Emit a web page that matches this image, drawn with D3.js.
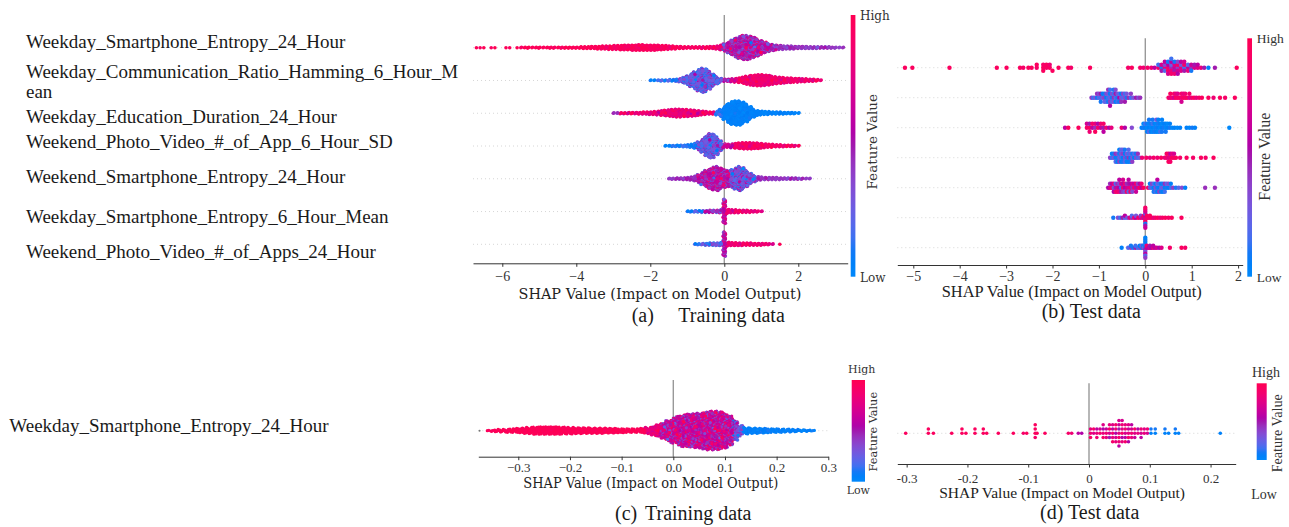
<!DOCTYPE html>
<html>
<head>
<meta charset="utf-8">
<script src="https://cdn.jsdelivr.net/npm/d3@7"></script>
<style>
  html, body { margin: 0; padding: 0; background: #fff; }
  svg { display: block; }
</style>
</head>
<body>
<svg id="fig" width="1289" height="527"></svg>
<script>
// ---------------------------------------------------------------
// Data
// ---------------------------------------------------------------
const featureLabelLines = [
  ["Weekday_Smartphone_Entropy_24_Hour"],
  ["Weekday_Communication_Ratio_Hamming_6_Hour_M", "ean"],
  ["Weekday_Education_Duration_24_Hour"],
  ["Weekend_Photo_Video_#_of_App_6_Hour_SD"],
  ["Weekend_Smartphone_Entropy_24_Hour"],
  ["Weekday_Smartphone_Entropy_6_Hour_Mean"],
  ["Weekend_Photo_Video_#_of_Apps_24_Hour"]
];
const singleFeatureLabel = "Weekday_Smartphone_Entropy_24_Hour";

const ticksTrain = [-6, -4, -2, 0, 2];
const ticksTest = [-5, -4, -3, -2, -1, 0, 1, 2];
const ticksSingleTrain = [-0.3, -0.2, -0.1, 0, 0.1, 0.2, 0.3];
const ticksSingleTest = [-0.3, -0.2, -0.1, 0, 0.1, 0.2];

// Training set, seven features: SHAP histograms (bin start, 0.1 wide bins, samples per bin)
const trainBinStep = 0.1;
const trainBinStart = [-6.7, -2.0, -3.0, -1.6, -1.5, -1.0, -0.8];
const trainCounts = [
  [1,1,1,0,1,1,0,0,1,1,0,1, 2,2,3,2,2,3,2,2,3,3,2,3,3,3,3,3, 4,5,5,6,6,7,8,
   8,9,10,10,11,12,12,13,13,14,14,13,13, 13,12,11,10,9,8,7,6,5,4, 4,4,4,5,5,6,6,8,12,
   18,26,36,46,54,60,60,56,50,42,34,26,20,16,12,10, 9,8,8,7,6,6,6,5,5,5,4,4,4,3,3,2,2],
  [2,2,2,3,3,4,4,6,8, 14,22,32,42,52,60,56,44,30,18,10, 6,6,8,
   10,12,16,20,24,26,28,28,26,24,20,18,16, 14,12,12,10,10,8,8,6,6,4,2],
  [2,2,3,3,4,4,4,5,6,6,7,8, 10,12,14,16,18,20,20,18,18,16,14,12,10,8,6, 6,10,18,
   32,46,56,60,60,54,44,32,20,12, 10,8,8,6,6,6,5,4,4,3,2],
  [2,2,3,4,4,5,6,8,12, 20,32,48,60,58,44,24,10, 8,10,12,14,16,16,16,14,14,12, 10,8,8,6,6,5,4,4,3,2],
  [2,3,4,4,5,6,8,12, 20,30,40,48,56,60,52,44,40,44,52,60,54,40,26,16,10,
   8,6,6,6,6,5,4,4,4,4,3,3,2,2],
  [2,3,4,4,5,5,6,6,6,8, 60, 10,8,8,7,6,6,5,4,3,2],
  [2,3,4,5,6,6,7,8, 60, 10,8,8,7,7,6,6,5,5,5,4,3,2,0,1]
];
// Feature value (0 = low, 1 = high) along each row: [from SHAP, mean, spread]
const trainFeatureValue = [
  [[-7, 0.97, 0.05], [-3.3, 0.93, 0.12], [-0.35, 0.8, 0.2], [-0.05, 0.52, 0.45], [1.45, 0.42, 0.12]],
  [[-2.1, 0.1, 0.15], [-1.2, 0.25, 0.3], [0.0, 0.6, 0.3], [0.3, 0.85, 0.2]],
  [[-3.1, 0.5, 0.1], [-2.8, 0.82, 0.25], [-0.25, 0.1, 0.1], [0.0, 0.04, 0.06]],
  [[-1.7, 0.08, 0.1], [-0.75, 0.25, 0.3], [-0.05, 0.65, 0.3], [0.3, 0.88, 0.15]],
  [[-1.6, 0.45, 0.1], [-0.75, 0.55, 0.4], [0.15, 0.3, 0.35], [0.9, 0.42, 0.1]],
  [[-1.1, 0.15, 0.2], [-0.55, 0.4, 0.35], [-0.05, 0.65, 0.35], [0.05, 0.82, 0.18]],
  [[-0.9, 0.2, 0.25], [-0.05, 0.55, 0.35], [0.05, 0.85, 0.15]]
];

// Test set, seven features: [SHAP value, feature values of the samples at that value]
const testRows = [
  [[-5.18,[.95]],[-5.02,[.95]],[-4.22,[.95]],[-3.20,[.95]],[-2.99,[.95]],[-2.70,[.95]],[-2.63,[.9]],
   [-2.52,[.95]],[-2.45,[.95]],[-2.34,[.9,.95]],[-2.20,[.95,.9,.95]],[-2.13,[.9,.95]],[-2.06,[.95,.85]],
   [-2.00,[.95]],[-1.87,[.95]],[-1.66,[.95]],[-1.60,[.9]],[-1.19,[.95]],[-0.37,[.9]],[-0.29,[.95]],
   [-0.11,[.9]],[-0.04,[.85]],[0.05,[.9]],[0.13,[.85]],[0.20,[.6]],[0.28,[.9,.15]],[0.35,[.1,.7,.5]],
   [0.42,[.8,.35,.2,.6]],[0.49,[.85,.55,.9,.1,.7]],[0.56,[.45,.25,.8,.6,.9,.15]],[0.63,[.65,.75,.5,.1,.85]],
   [0.70,[.4,.9,.7,.35,.55]],[0.77,[.8,.3,.75,.6]],[0.84,[.15,.9,.5,.7]],[0.92,[.6,.2,.8]],
   [0.99,[.45,.65,.1]],[1.06,[.7,.5]],[1.13,[.75,.6]],[1.20,[.8]],[1.27,[.5]],[1.36,[.05]],[1.50,[.5]],[1.97,[.95]]],
  [[-1.16,[.4]],[-1.12,[.15]],[-1.08,[.3]],[-1.04,[.1,.45]],[-1.00,[.2,.35]],[-0.96,[.15,.5,.1]],
   [-0.92,[.3,.05]],[-0.88,[.4,.1,.25]],[-0.84,[.05,.35,.2]],[-0.80,[.15,.3,.1,.45]],[-0.76,[.25,.05,.4,.15,.55]],
   [-0.72,[.1,.35,.2]],[-0.68,[.45,.15,.3,.1]],[-0.64,[.2,.5,.05,.35]],[-0.60,[.1,.3,.15]],[-0.56,[.55,.2,.1]],
   [-0.52,[.3,.05,.45]],[-0.48,[.2,.4]],[-0.44,[.35,.15,.5]],[-0.40,[.1,.3]],[-0.36,[.45]],[-0.31,[.15,.4]],
   [-0.26,[.3]],[-0.20,[.5]],[-0.15,[.35]],[-0.11,[.45]],
   [0.50,[.9]],[0.54,[.8,.95]],[0.58,[.85]],[0.62,[.7,.9]],[0.66,[.95,.8]],[0.70,[.9,.75]],[0.74,[.95]],
   [0.78,[.85,.9,.7]],[0.82,[.95,.8]],[0.86,[.9,.85]],[0.90,[.95]],[0.95,[.75,.9]],[1.00,[.85]],[1.05,[.95]],
   [1.10,[.8]],[1.16,[.9]],[1.22,[.95]],[1.36,[.95]],[1.47,[.85]],[1.61,[.95]],[1.72,[.9]],[1.93,[.95]]],
  [[-1.73,[.6]],[-1.66,[.95]],[-1.44,[.95]],[-1.26,[.9,.7]],[-1.20,[.95,.5,.85]],[-1.14,[.6,.9]],
   [-1.08,[.45,.8,.95]],[-1.02,[.9,.55]],[-0.96,[.65,.85]],[-0.90,[.5,.9,.6]],[-0.84,[.85]],[-0.78,[.55]],
   [-0.73,[.8]],[-0.51,[.85]],[-0.44,[.55]],[-0.29,[.35]],
   [-0.08,[.05]],[-0.04,[.1,0]],[0.00,[.05,.15]],[0.04,[0,.1,.05]],[0.08,[.05,0,.2,.1]],[0.12,[0,.1,.05]],
   [0.16,[.05,.15,0,.1]],[0.20,[0,.05,.1]],[0.24,[.1,0,.05,.3]],[0.28,[.05,.1,0,.05]],[0.32,[0,.05,.15]],
   [0.36,[.05,0,.1,.05]],[0.40,[.1,.05]],[0.44,[0,.05,.1]],[0.48,[.05,0]],[0.53,[.1,.05]],[0.58,[0]],
   [0.63,[.05]],[0.69,[0]],[0.75,[.05]],[0.89,[.05]],[0.95,[0]],[1.01,[.1]],[1.07,[.05]],[1.81,[0]]],
  [[-0.76,[.4]],[-0.72,[.15,.05]],[-0.68,[.3,.1]],[-0.64,[.05,.45,.2]],[-0.60,[.1,.35,.05]],
   [-0.56,[.25,.1,.4,.05]],[-0.52,[.15,.3,.05,.2]],[-0.48,[.05,.4,.1,.25]],[-0.44,[.35,.05,.2,.1]],
   [-0.40,[.1,.3,.05]],[-0.36,[.45,.15,.05,.2]],[-0.32,[.05,.25,.1]],[-0.28,[.3,.1,.4]],[-0.24,[.05,.2]],
   [-0.20,[.35,.1]],[-0.16,[.15,.45]],[-0.12,[.25]],
   [-0.07,[.85]],[0.02,[.9]],[0.10,[.8]],[0.18,[.9]],[0.26,[.85]],[0.34,[.95]],[0.42,[.8]],[0.46,[.9,.95]],
   [0.50,[.75,.9,.95]],[0.54,[.85,.6,.9]],[0.58,[.95,.8]],[0.62,[.9,.7]],[0.66,[.95]],[0.75,[.9]],
   [0.89,[.95]],[1.03,[.9]],[1.20,[.95]],[1.30,[.9]],[1.47,[.95]]],
  [[-0.80,[.55]],[-0.76,[.75,.45]],[-0.72,[.9,.6]],[-0.68,[.3,.8,.55]],[-0.64,[.5,.2,.85]],[-0.60,[.7,.45,.9]],
   [-0.56,[.55,.35,.8,.6]],[-0.52,[.15,.75,.5]],[-0.48,[.9,.6,.4,.7]],[-0.44,[.55,.85,.3]],[-0.40,[.65,.45,.9]],
   [-0.36,[.75,.5,.2,.6]],[-0.32,[.8,.55,.9]],[-0.28,[.45,.7,.35]],[-0.24,[.85,.6]],[-0.20,[.5,.9,.65]],
   [-0.16,[.7,.4]],[-0.12,[.95,.55]],[-0.08,[.6,.85]],[-0.04,[.95]],
   [0.06,[.9]],[0.10,[.3,.05]],[0.14,[.15,.4]],[0.18,[.05,.2,.1]],[0.22,[.35,.05,.15]],[0.26,[.1,.25,.05,.6]],
   [0.30,[.05,.15,.4]],[0.34,[.2,.05,.1]],[0.38,[.3,.1,.05]],[0.42,[.05,.45,.15]],[0.46,[.1,.2]],[0.50,[.05,.35]],
   [0.55,[.15,.05]],[0.60,[.4]],[0.66,[.1]],[0.72,[.2]],[0.79,[.35]],[0.86,[.05]],[1.29,[.45]],[1.50,[.45]]],
  [[-0.69,[.1]],[-0.59,[.35]],[-0.54,[.15]],[-0.49,[.5]],[-0.44,[.2,.6]],[-0.39,[.3]],[-0.34,[.75]],
   [-0.29,[.45,.2]],[-0.24,[.85]],[-0.20,[.55,.3]],[-0.15,[.9]],[-0.10,[.7,.4]],[-0.06,[.85]],[-0.03,[.5,.9]],
   [0.00,[.9,.6,.85,.2,.95,.7,.1,.8,.5,.9,.65]],[0.03,[.8,.95]],[0.06,[.9]],[0.10,[.85,.95]],[0.14,[.95]],
   [0.18,[.8]],[0.22,[.9]],[0.27,[.95]],[0.32,[.85]],[0.37,[.9]],[0.43,[.95]],[0.50,[.9]],[0.57,[.95]],[0.78,[.95]]],
  [[-0.51,[.05]],[-0.37,[.2]],[-0.31,[.4,.1]],[-0.26,[.1]],[-0.21,[.5,.15]],[-0.16,[.15]],[-0.12,[.35,.05]],
   [-0.08,[.05,.3]],[-0.05,[.45,.1]],[-0.03,[.25]],
   [0.00,[.1,.05,.5,.15,.3,.05,.6,.1,.2,.05,.4]],[0.03,[.6,.85]],[0.07,[.6]],[0.10,[.75,.5]],[0.13,[.55]],
   [0.17,[.8,.6]],[0.21,[.6]],[0.25,[.7]],[0.30,[.55]],[0.35,[.75]],[0.53,[.9]],[0.78,[.95]],[0.86,[.9]]]
];

// Training set, single feature: histogram with 0.01 wide bins
const singleTrainBinStep = 0.01;
const singleTrainBinStart = -0.36;
const singleTrainCounts = [
  2,5,8,9,11,12,14,17,20,23, 24,24,24,24,23,22,21,20,19,18, 18,17,17,16,15,14,13,12,12,12,
  15,20,27,36,48,63, 78,90,99,102,105,108,114,120,120,117, 108,90,60,33,21,18,17,15,14,12,
  12,11,10,9,8,6,5,3
];
const singleTrainFeatureValue = [[-0.4, 0.97, 0.04], [-0.05, 0.8, 0.2], [-0.02, 0.62, 0.4],
                                 [0.12, 0.3, 0.3], [0.135, 0.05, 0.06]];
const singleTrainMissing = [-0.375];

// Test set, single feature
const singleTest = [
  [-0.3016,[.95]],[-0.2643,[.95,.95]],[-0.256,[.95]],[-0.2259,[.95]],[-0.2090,[.95,.95]],[-0.2025,[.95]],
  [-0.1876,[.95,.95]],[-0.1739,[.95,.95]],[-0.1683,[.95]],[-0.1492,[.95]],[-0.1245,[.95]],[-0.1080,[.9]],
  [-0.1025,[.95]],[-0.0885,[.95,.95,.9,.95]],[-0.0855,[.95]],[-0.0724,[.95]],[-0.0340,[.9]],[-0.0285,[.85]],
  [-0.0176,[.6]],[-0.0120,[.55]],
  [0.0025,[.85,.8,.9]],[0.0077,[.75,.9]],[0.0129,[.8,.6,.85]],[0.0181,[.9,.7]],[0.0233,[.8,.55,.9,.75]],
  [0.0285,[.85,.65,.8]],[0.0337,[.7,.9,.5,.8]],[0.0389,[.85,.6,.8,.75,.9]],[0.0441,[.55,.85,.7,.9,.8]],
  [0.0493,[.8,.5,.9,.65,.85,.7,.6]],[0.0545,[.9,.75,.55,.85,.8,.7]],[0.0597,[.7,.85,.6,.8,.9]],
  [0.0649,[.8,.65,.9,.75,.55]],[0.0701,[.85,.7,.8,.6]],[0.0753,[.75,.9,.65]],[0.0805,[.8,.55]],
  [0.0857,[.7,.85,.6]],[0.0909,[.8,.75]],[0.0961,[.7,.85]],
  [0.1020,[.05,.1]],[0.1090,[.05,.1]],[0.1250,[.05,.1]],[0.1310,[.05]],[0.1420,[.05,.1]],[0.1475,[.05]],[0.2160,[.05]]
];

// ---------------------------------------------------------------
// Layout
// ---------------------------------------------------------------
const fontSlab = "'DejaVu Serif', serif";
const fontBook = "'Liberation Serif', 'Times New Roman', serif";

const panels = {
  a: { x0: 724.3, ppu: 37, axisLeft: 473, axisRight: 847.7, axisY: 263.3, top: 15,
       rowY0: 47.7, rowStep: 32.77, rowMax: 12.6, r: 1.8, binSpread: 0.35,
       ticks: ticksTrain, fmt: d3.format("d"), tickFont: fontBook, tickSize: 14, tickBase: 281,
       title: { x: 660, y: 299, w: 283, font: fontSlab, size: 15 },
       bar: { x: 850.7, w: 4.7, y0: 15, y1: 276.7 },
       high: { x: 860, y: 20, anchor: "start" }, low: { x: 860, y: 282, anchor: "start" },
       hlFont: fontSlab, hlSize: 12,
       fv: { x: 877, y: 141.7, size: 13.6, font: fontSlab } },
  b: { x0: 1145.3, ppu: 46.4, axisLeft: 897.3, axisRight: 1242.7, axisY: 265, top: 38.3,
       rowY0: 67.7, rowStep: 30, rowMax: 12, r: 2.2,
       ticks: ticksTest, fmt: d3.format("d"), tickFont: fontBook, tickSize: 14, tickBase: 281,
       title: { x: 1071.7, y: 296.7, w: 260, font: fontBook, size: 16 },
       bar: { x: 1247.3, w: 4.7, y0: 38.3, y1: 276.7 },
       high: { x: 1256.7, y: 42.7, anchor: "start" }, low: { x: 1256.7, y: 281.7, anchor: "start" },
       hlFont: fontBook, hlSize: 13.5,
       fv: { x: 1270, y: 156.7, size: 16, font: fontBook } },
  c: { x0: 673.3, ppu: 516.7, axisLeft: 478.3, axisRight: 828.3, axisY: 456.7, top: 380,
       rowY0: 430.7, rowStep: 0, rowMax: 19.8, r: 1.6, binSpread: 0.55,
       ticks: ticksSingleTrain, fmt: d3.format(".1f"), tickFont: fontBook, tickSize: 13, tickBase: 471.7,
       title: { x: 650.8, y: 488.3, w: 255, font: fontSlab, size: 14 },
       bar: { x: 851.7, w: 13.3, y0: 380, y1: 481.7 },
       high: { x: 861.7, y: 373.3, anchor: "middle" }, low: { x: 858.3, y: 494, anchor: "middle" },
       hlFont: fontSlab, hlSize: 11,
       fv: { x: 877.3, y: 431.7, size: 11.3, font: fontSlab } },
  d: { x0: 1089, ppu: 607.8, axisLeft: 897.3, axisRight: 1235.7, axisY: 464, top: 383.3,
       rowY0: 433.3, rowStep: 0, rowMax: 17, r: 1.8,
       ticks: ticksSingleTest, fmt: v => (v === 0 ? "0" : v.toFixed(1)), tickFont: fontBook, tickSize: 13, tickBase: 483.3,
       title: { x: 1062, y: 497.7, w: 245.7, font: fontBook, size: 15 },
       bar: { x: 1256.7, w: 10, y0: 383.3, y1: 460 },
       high: { x: 1266, y: 377, anchor: "middle" }, low: { x: 1264, y: 499, anchor: "middle" },
       hlFont: fontBook, hlSize: 14,
       fv: { x: 1281.7, y: 433.3, size: 14.2, font: fontBook } }
};

const labelLayout = { x: 26, size: 19, baselines: [[48.3], [78.3, 98.3], [123.3], [148.3], [183.3], [223.3], [257.7]] };
const singleLabelLayout = { x: 9.3, y: 431.7, size: 19 };
const captions = [
  { parts: [["(a)", 631.7], ["Training data", 678.3]], y: 321.7 },
  { parts: [["(b) Test data", 1041.7]], y: 318.3 },
  { parts: [["(c)", 615], ["Training data", 645]], y: 520 },
  { parts: [["(d) Test data", 1040]], y: 519.3 }
];

// ---------------------------------------------------------------
// Helpers
// ---------------------------------------------------------------
// Red-blue feature-value colour map (interpolated in LCh, darker in the middle)
function shapColour(t) {
  t = Math.max(0, Math.min(1, t));
  const l = t < 0.5 ? 54 + (40 - 54) * (t / 0.5) : 40 + (54 - 40) * ((t - 0.5) / 0.5);
  const c = 70 + 20 * t;
  const h = (4.6588 + (0.35470565 + 2 * Math.PI - 4.6588) * t) * 180 / Math.PI;
  return d3.hcl(h, c, l).formatHex();
}

// vertical stacking order inside one bin: 0, +1, -1, +2, -2, ...
function layerOffset(k) { return Math.ceil(k / 2) * ((k % 2) * 2 - 1); }

// spread of feature values and of SHAP positions among the samples of one histogram bin
const speckle = [0.1, -0.25, 0.35, -1, 0.2, -0.1, 0.5, -0.45, 0, 0.9, -0.3, 0.15, -0.7, 0.4, -0.05, 0.65, -0.55, 0.25, -0.15, 1];
const within = [0, 0.55, -0.55, 0.85, -0.3, 0.3, -0.85, 0.15, -0.7, 0.7, -0.15];

function segmentAt(segments, v) {
  let s = segments[0];
  for (const seg of segments) if (v >= seg[0]) s = seg;
  return s;
}

function histogramSamples(start, step, counts, segments, spread) {
  const pts = [];
  counts.forEach((c, i) => {
    const centre = start + i * step;
    const seg = segmentAt(segments, centre);
    for (let k = 0; k < c; k++) {
      pts.push({
        shap: centre + within[k % within.length] * step * spread,
        fv: seg[1] + seg[2] * speckle[(k * 7 + i * 3) % speckle.length],
        lift: layerOffset(k),
        order: (i * 37 + k * 101) % 211
      });
    }
  });
  return pts.sort((p, q) => p.order - q.order);
}

function swarmSamples(entries, nbins = 100) {
  const pts = [];
  entries.forEach(([v, fvs]) => fvs.forEach(fv => pts.push({ shap: v, fv })));
  const lo = d3.min(pts, p => p.shap), hi = d3.max(pts, p => p.shap);
  pts.forEach(p => { p.q = Math.round(nbins * (p.shap - lo) / (hi - lo + 1e-8)); });
  const idx = d3.range(pts.length).sort((a, b) => pts[a].q - pts[b].q || a - b);
  let layer = 0, last = -1;
  idx.forEach(i => {
    if (pts[i].q !== last) layer = 0;
    pts[i].lift = layerOffset(layer);
    layer++;
    last = pts[i].q;
  });
  return pts;
}

// ---------------------------------------------------------------
// Drawing
// ---------------------------------------------------------------
const svg = d3.select("#fig");
const grad = svg.append("defs").append("linearGradient")
  .attr("id", "fvGrad").attr("x1", 0).attr("y1", 1).attr("x2", 0).attr("y2", 0);
d3.range(0, 1.0001, 0.05).forEach(t =>
  grad.append("stop").attr("offset", t).attr("stop-color", shapColour(t)));

function drawPanel(L, rows, missing) {
  const g = svg.append("g");
  const x = d3.scaleLinear()
    .domain([(L.axisLeft - L.x0) / L.ppu, (L.axisRight - L.x0) / L.ppu])
    .range([L.axisLeft, L.axisRight]);
  const rowY = i => L.rowY0 + i * L.rowStep;

  // dotted row guides
  rows.forEach((_, i) => {
    g.append("line")
      .attr("x1", L.axisLeft).attr("x2", L.axisRight)
      .attr("y1", rowY(i)).attr("y2", rowY(i))
      .attr("stroke", "#cccccc").attr("stroke-width", 0.8)
      .attr("stroke-dasharray", "1,3");
  });

  // zero line
  g.append("line")
    .attr("x1", x(0)).attr("x2", x(0))
    .attr("y1", L.top).attr("y2", L.axisY)
    .attr("stroke", "#999999").attr("stroke-width", 1.4);

  // samples
  rows.forEach((pts, i) => {
    const maxLift = d3.max(pts, p => p.lift + 1);
    g.append("g").selectAll("circle").data(pts).join("circle")
      .attr("cx", p => x(p.shap))
      .attr("cy", p => rowY(i) - p.lift * L.rowMax / maxLift)
      .attr("r", L.r)
      .attr("fill", p => shapColour(p.fv));
  });
  if (missing) {
    g.append("g").selectAll("circle").data(missing).join("circle")
      .attr("cx", v => x(v)).attr("cy", rowY(0)).attr("r", 1)
      .attr("fill", "#777777");
  }

  // axis
  const axis = d3.axisBottom(x).tickValues(L.ticks).tickFormat(L.fmt)
    .tickSize(3.5).tickSizeOuter(0);
  const ag = g.append("g").attr("transform", `translate(0,${L.axisY})`).call(axis);
  ag.attr("font-family", L.tickFont).attr("font-size", L.tickSize);
  ag.select(".domain").attr("stroke", "#333333").attr("stroke-width", 1);
  ag.selectAll(".tick line").attr("stroke", "#333333");
  ag.selectAll(".tick text").attr("fill", "#333333")
    .attr("y", L.tickBase - L.axisY).attr("dy", null);

  g.append("text")
    .attr("x", L.title.x).attr("y", L.title.y)
    .attr("text-anchor", "middle")
    .attr("font-family", L.title.font).attr("font-size", L.title.size)
    .attr("textLength", L.title.w).attr("lengthAdjust", "spacingAndGlyphs")
    .attr("fill", "#222")
    .text("SHAP Value (Impact on Model Output)");

  // colour bar
  g.append("rect")
    .attr("x", L.bar.x).attr("y", L.bar.y0)
    .attr("width", L.bar.w).attr("height", L.bar.y1 - L.bar.y0)
    .attr("fill", "url(#fvGrad)");
  [["High", L.high], ["Low", L.low]].forEach(([txt, p]) => {
    g.append("text").attr("x", p.x).attr("y", p.y)
      .attr("text-anchor", p.anchor)
      .attr("font-family", L.hlFont).attr("font-size", L.hlSize)
      .attr("fill", "#333333").text(txt);
  });
  g.append("text")
    .attr("transform", `translate(${L.fv.x},${L.fv.y}) rotate(-90)`)
    .attr("text-anchor", "middle")
    .attr("font-family", L.fv.font).attr("font-size", L.fv.size)
    .attr("fill", "#333333").text("Feature Value");
}

// (a) training data, seven features
drawPanel(panels.a, trainCounts.map((counts, i) =>
  histogramSamples(trainBinStart[i], trainBinStep, counts, trainFeatureValue[i], panels.a.binSpread)));

// (b) test data, seven features
drawPanel(panels.b, testRows.map(r => swarmSamples(r)));

// (c) training data, single feature
drawPanel(panels.c, [histogramSamples(singleTrainBinStart, singleTrainBinStep, singleTrainCounts,
  singleTrainFeatureValue, panels.c.binSpread)], singleTrainMissing);

// (d) test data, single feature
drawPanel(panels.d, [swarmSamples(singleTest)]);

// feature names
featureLabelLines.forEach((lines, i) => {
  lines.forEach((line, j) => {
    svg.append("text")
      .attr("x", labelLayout.x).attr("y", labelLayout.baselines[i][j])
      .attr("font-family", fontBook).attr("font-size", labelLayout.size)
      .attr("fill", "#1a1a1a").text(line);
  });
});
svg.append("text")
  .attr("x", singleLabelLayout.x).attr("y", singleLabelLayout.y)
  .attr("font-family", fontBook).attr("font-size", singleLabelLayout.size)
  .attr("fill", "#1a1a1a").text(singleFeatureLabel);

// sub-figure captions
captions.forEach(c => c.parts.forEach(([txt, px]) => {
  svg.append("text").attr("x", px).attr("y", c.y)
    .attr("font-family", fontBook).attr("font-size", 20)
    .attr("fill", "#1a1a1a").text(txt);
}));
</script>
</body>
</html>
